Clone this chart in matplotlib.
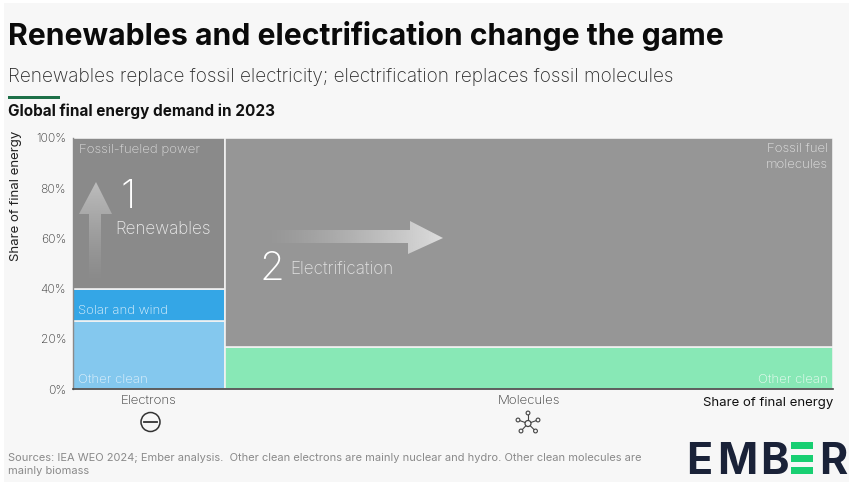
import numpy as np
import matplotlib
matplotlib.use("Agg")
import matplotlib.pyplot as plt
from matplotlib.patches import Polygon, Rectangle, Circle
from matplotlib.colors import LinearSegmentedColormap, to_rgb

# ── Data ────────────────────────────────────────────────────────────────
electrons_width = 20
molecules_width = 80
electrons_other_clean = 27
electrons_solar_wind = 13
electrons_fossil = 60
molecules_other_clean = 16.7
molecules_fossil = 83.3
y_ticks = [0, 20, 40, 60, 80, 100]
y_labels = ["0%", "20%", "40%", "60%", "80%", "100%"]

W, H = 849, 482
FONT = "Inter"
plt.rcParams['font.family'] = [FONT, 'DejaVu Sans']

fig = plt.figure(figsize=(W / 100, H / 100), dpi=100, facecolor='white')

# overlay in pixel coordinates for header, footer and annotations
bg = fig.add_axes([0, 0, 1, 1], zorder=0)
bg.set_xlim(0, W)
bg.set_ylim(H, 0)
bg.axis('off')
bg.add_patch(Rectangle((4, 3), W - 4, H - 3, color='#f7f7f7', lw=0))

# top gradient bar
grad = LinearSegmentedColormap.from_list('top', ['#1b2a4e', '#2f7f62', '#4cc47c'])
bg.imshow(np.linspace(0, 1, 256)[None, :], extent=(4, 220, 8, 3), cmap=grad, aspect='auto')
bg.set_xlim(0, W)
bg.set_ylim(H, 0)

bg.text(8, 36, "Renewables and electrification change the game", fontsize=21.7,
        fontweight='bold', color='#0a0a0a', va='center')
bg.text(8, 77, "Renewables replace fossil electricity; electrification replaces fossil molecules",
        fontsize=13.7, color='#2a2a2a', va='center', fontweight='light')
bg.add_patch(Rectangle((8, 95.5), 52, 3, color='#1d7048', lw=0))
bg.text(8, 111, "Global final energy demand in 2023", fontsize=11, fontweight='bold',
        color='#111111', va='center')

# ── Main chart ──────────────────────────────────────────────────────────
ax = fig.add_axes([73 / W, 1 - 389 / H, 760 / W, 251 / H], zorder=1)
ax.set_xlim(0, electrons_width + molecules_width)
ax.set_ylim(0, 100)
ax.set_facecolor('none')
edge = dict(edgecolor='#f2f2f2', linewidth=1.2, align='edge')
ax.bar(0, electrons_other_clean, electrons_width, color='#84c8ee', **edge)
ax.bar(0, electrons_solar_wind, electrons_width, bottom=electrons_other_clean, color='#34a6e6', **edge)
ax.bar(0, electrons_fossil, electrons_width, bottom=electrons_other_clean + electrons_solar_wind,
       color='#8a8a8a', **edge)
ax.bar(electrons_width, molecules_other_clean, molecules_width, color='#88e8b6', **edge)
ax.bar(electrons_width, molecules_fossil, molecules_width, bottom=molecules_other_clean,
       color='#969696', **edge)

for s in ['top', 'right']:
    ax.spines[s].set_visible(False)
ax.spines['left'].set_color('#8a8a8a')
ax.spines['left'].set_linewidth(1)
ax.spines['bottom'].set_color('#444444')
ax.spines['bottom'].set_linewidth(1.2)
ax.set_yticks(y_ticks, y_labels, fontsize=8.7, color='#333333', fontweight='light')
ax.set_xticks([])
ax.tick_params(axis='y', length=0, pad=5)

# overlay for annotations on top of the bars
top = fig.add_axes([0, 0, 1, 1], zorder=2)
top.set_xlim(0, W)
top.set_ylim(H, 0)
top.axis('off')
top.patch.set_alpha(0)


def gradient_arrow(points, extent, vertical, strength):
    # white-ish arrow fading out towards its tail
    alpha = np.linspace(0, strength, 256) ** 1.3
    arr = alpha[:, None] if vertical else alpha[None, :]
    rgba = np.ones(arr.shape + (4,))
    rgba[..., :3] = to_rgb('#eeeeee')
    rgba[..., 3] = arr
    if vertical:
        rgba = rgba[::-1]
    im = top.imshow(rgba, extent=extent, aspect='auto', zorder=3)
    im.set_clip_path(Polygon(points, transform=top.transData))


gradient_arrow([(89, 284), (89, 214), (79, 214), (96, 182), (112, 214), (101, 214), (101, 284)],
               (79, 112, 284, 182), True, 0.6)
gradient_arrow([(265, 230), (410, 230), (410, 221), (443, 238), (408, 254), (408, 243), (265, 243)],
               (265, 443, 254, 221), False, 0.85)
top.set_xlim(0, W)
top.set_ylim(H, 0)

white = '#ececec'
top.text(79, 149.5, "Fossil-fueled power", fontsize=9.5, color='#dddddd', va='center', fontweight='light')
top.text(828, 149.5, "Fossil fuel", fontsize=9.5, color='#e4e4e4', va='center', ha='right', fontweight='light')
top.text(828, 164.5, "molecules", fontsize=9.5, color='#e4e4e4', va='center', ha='right', fontweight='light')
top.text(78, 310.5, "Solar and wind", fontsize=9.5, color='#e4f3fc', va='center', fontweight='light')
top.text(78, 379.5, "Other clean", fontsize=9.5, color='#e4f3fc', va='center', fontweight='light')
top.text(828, 379.5, "Other clean", fontsize=9.5, color='#eefcf4', va='center', ha='right', fontweight='light')
top.text(128, 197, "1", fontsize=29, color='white', va='center', ha='center', fontweight='light')
top.text(115, 229, "Renewables", fontsize=12.3, color=white, va='center', fontweight='light')
top.text(272, 270, "2", fontsize=29, color='white', va='center', ha='center', fontweight='light')
top.text(290, 269, "Electrification", fontsize=12.3, color='#e2e2e2', va='center', fontweight='light')

# axis titles and category labels
top.text(16, 196, "Share of final energy", fontsize=9.5, color='#222222', rotation=90,
         va='center', ha='center')
top.text(149, 401, "Electrons", fontsize=9.5, color='#333333', va='center', ha='center', fontweight='light')
top.text(529, 401, "Molecules", fontsize=9.5, color='#333333', va='center', ha='center', fontweight='light')
top.text(833, 403, "Share of final energy", fontsize=9.5, color='#111111', va='center', ha='right')

# electron icon
top.add_patch(Circle((150.5, 422), 9.5, fill=False, ec='#333333', lw=1.1))
top.plot([144, 157], [422, 422], color='#333333', lw=1.3)

# molecule icon
cx, cy = 528, 423.5
nodes = [(528, 413), (518, 420), (538, 420), (521, 431), (535.5, 431)]
for nx, ny in nodes:
    top.plot([cx, nx], [cy, ny], color='#444444', lw=0.8, zorder=3)
    top.add_patch(Circle((nx, ny), 1.9, fc='#f7f7f7', ec='#444444', lw=0.8, zorder=4))
top.add_patch(Circle((cx, cy), 3, fc='#f7f7f7', ec='#444444', lw=0.9, zorder=4))

# footer
top.text(8, 458, "Sources: IEA WEO 2024; Ember analysis.  Other clean electrons are mainly nuclear and hydro. Other clean molecules are",
         fontsize=7.97, color='#8a8a8a', va='center')
top.text(8, 471, "mainly biomass", fontsize=7.97, color='#8a8a8a', va='center')

# logo
navy = '#1a2238'
for letter, lx in [("E", 699), ("M", 737.5), ("B", 774), ("R", 833)]:
    top.text(lx, 458, letter, fontsize=31, fontweight='bold', color=navy, va='center_baseline', ha='center')
for y0 in [442, 454.5, 467]:
    top.add_patch(Rectangle((791, y0), 22, 7, color='#18cf72', lw=0))
top.set_xlim(0, W)
top.set_ylim(H, 0)

fig.savefig("out.png", dpi=100)
